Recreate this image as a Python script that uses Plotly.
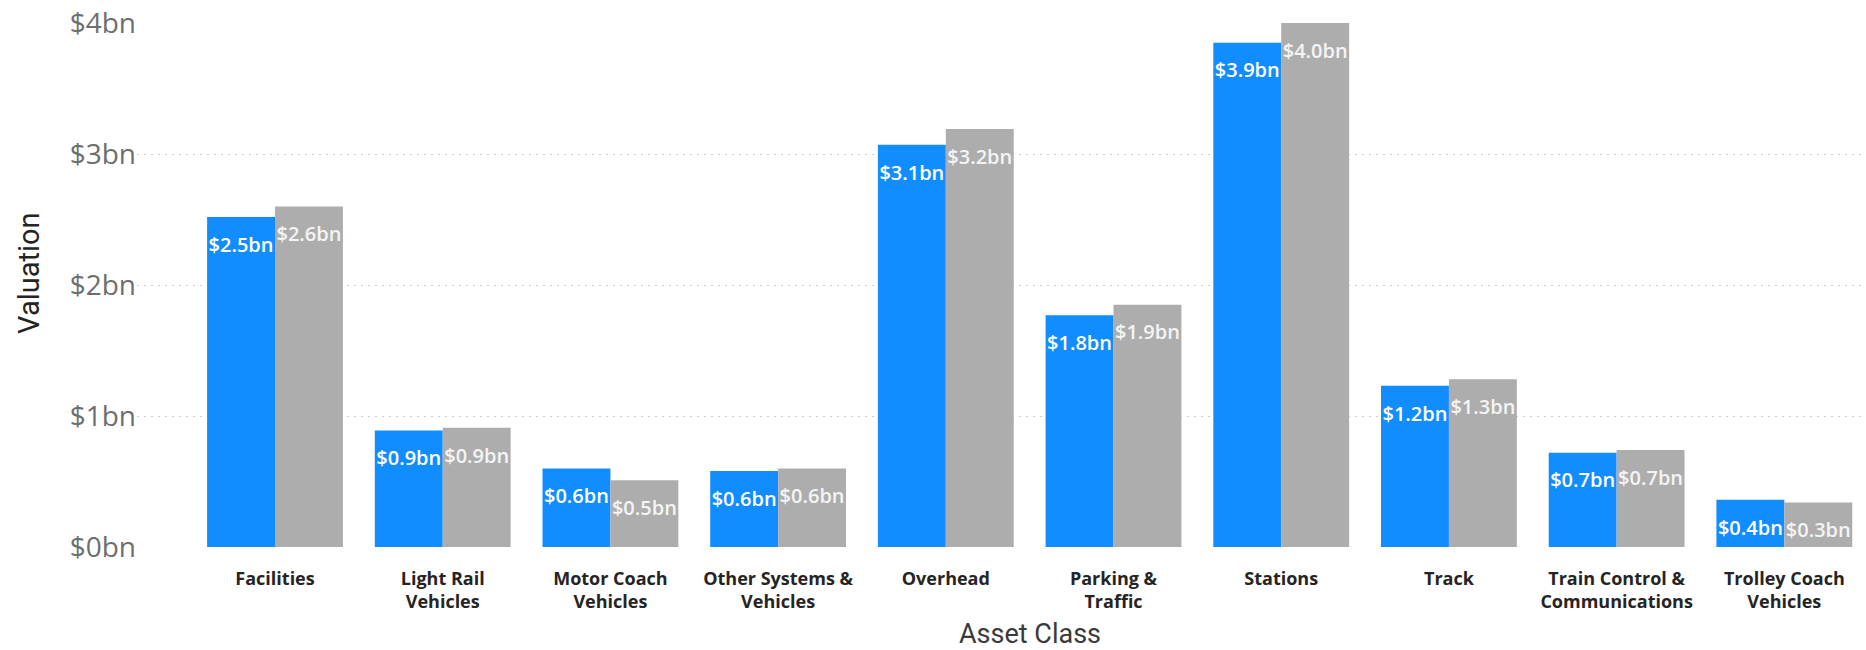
import numpy as np
import plotly.graph_objects as go

# Asset classes (two-line tick labels where the category name wraps)
categories = [
    "Facilities",
    "Light Rail<br>Vehicles",
    "Motor Coach<br>Vehicles",
    "Other Systems &<br>Vehicles",
    "Overhead",
    "Parking &<br>Traffic",
    "Stations",
    "Track",
    "Train Control &<br>Communications",
    "Trolley Coach<br>Vehicles",
]

# Valuations in $bn
series_1 = [2.52, 0.89, 0.60, 0.58, 3.07, 1.77, 3.85, 1.23, 0.72, 0.36]
series_2 = [2.60, 0.91, 0.51, 0.60, 3.19, 1.85, 4.00, 1.28, 0.74, 0.34]

y_ticks = [0, 1, 2, 3, 4]
y_tick_labels = [f"${v}bn" for v in y_ticks]

BLUE = "#118DFF"
GREY = "#ADADAD"
BAR_GAP = 0.19

x_idx = np.arange(len(categories))
half = (1 - BAR_GAP) / 4  # centre offset of each bar inside its group

fig = go.Figure()
fig.add_trace(go.Bar(x=x_idx, y=series_1, marker_color=BLUE, marker_line_width=0,
                     hoverinfo="skip", showlegend=False))
fig.add_trace(go.Bar(x=x_idx, y=series_2, marker_color=GREY, marker_line_width=0,
                     hoverinfo="skip", showlegend=False))

# value labels sitting just inside the top of each bar
label_font = dict(family="Open Sans, Segoe UI, sans-serif", size=20, weight=600)
for xs, ys, col in [(x_idx - half, series_1, "#FFFFFF"), (x_idx + half, series_2, "#F4F4F4")]:
    fig.add_trace(go.Scatter(
        x=xs, y=ys, mode="markers+text",
        marker=dict(size=30, opacity=0),
        text=[f"${v:.1f}bn" for v in ys],
        textposition="bottom center",
        textfont=dict(color=col, **label_font),
        hoverinfo="skip", showlegend=False, cliponaxis=False,
    ))

fig.update_layout(
    width=1866, height=650,
    margin=dict(l=137, r=0, t=23, b=103, autoexpand=False),
    paper_bgcolor="white", plot_bgcolor="white",
    barmode="group", bargap=BAR_GAP, bargroupgap=0,
    xaxis=dict(
        range=[-0.823, 9.487],
        tickvals=x_idx, ticktext=categories,
        ticks="", showgrid=False, zeroline=False, showline=False,
        tickfont=dict(family="Open Sans, Segoe UI, sans-serif", size=18,
                      color="#252423", weight="bold"),
        ticklabelstandoff=19,
        automargin=False,
    ),
    yaxis=dict(
        range=[0, 4],
        tickvals=y_ticks, ticktext=y_tick_labels,
        ticks="", showline=False, zeroline=False,
        showgrid=True, gridcolor="#CFCFCF", gridwidth=1, griddash="2px,5px",
        tickfont=dict(family="Open Sans, Segoe UI, sans-serif", size=28, color="#6E6E6E"),
        ticklabelstandoff=0,
        automargin=False,
    ),
    annotations=[
        dict(text="Asset Class", xref="x", x=4.5, yref="paper", y=-0.166,
             xanchor="center", yanchor="middle", showarrow=False,
             font=dict(family="Roboto, sans-serif", size=27, color="#3A3A3A")),
        dict(text="Valuation", xref="paper", x=-0.0625, yref="paper", y=0.523,
             xanchor="center", yanchor="middle", showarrow=False, textangle=-90,
             font=dict(family="Roboto, sans-serif", size=29, color="#252423")),
    ],
)

fig.write_html("out.html")
